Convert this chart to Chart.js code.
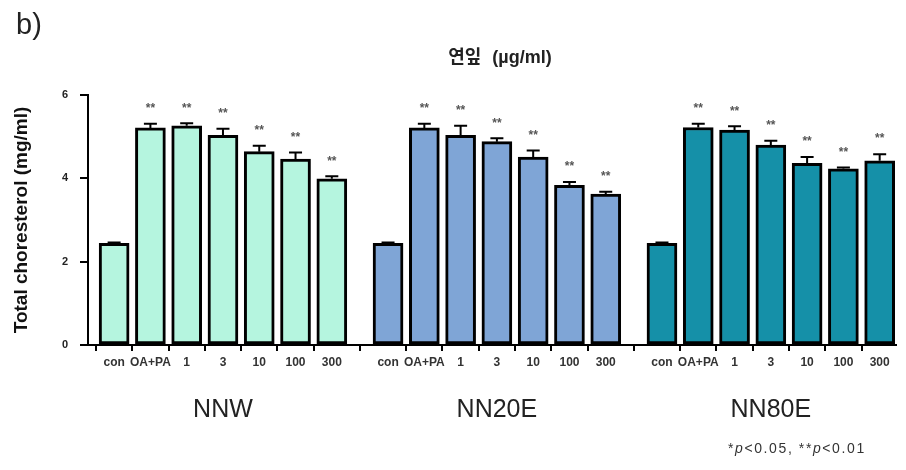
<!DOCTYPE html>
<html>
<head>
<meta charset="utf-8">
<script src="https://cdn.jsdelivr.net/npm/chart.js@4/dist/chart.umd.min.js"></script>
<style>
  html, body { margin: 0; padding: 0; background: #fff; }
  #wrap { position: relative; width: 906px; height: 470px; font-family: Arial, "Liberation Sans", "Noto Sans CJK KR", sans-serif; }
  #chart { position: absolute; left: 0; top: 0; }
  .panel { position: absolute; left: 16px; top: 10px; font-size: 29px; line-height: 29px; color: #222; }
  .title { position: absolute; left: 380px; top: 47px; width: 240px; text-align: center; font-size: 18px; line-height: 20px; font-weight: bold; color: #222; word-spacing: 6px; }
  .note { position: absolute; left: 728px; top: 440px; font-size: 14px; line-height: 16px; color: #333; letter-spacing: 1.6px; }
</style>
</head>
<body>
<div id="wrap">
  <canvas id="chart" width="906" height="470"></canvas>
  <div class="panel">b)</div>
  <div class="title">연잎 (µg/ml)</div>
  <div class="note">*<i>p</i>&lt;0.05, **<i>p</i>&lt;0.01</div>
</div>
<script>
// ── Datos ─────────────────────────────────────────
const GROUPS = ['NNW', 'NN20E', 'NN80E'];
const DOSES  = ['con', 'OA+PA', '1', '3', '10', '100', '300'];
const SIG    = ['', '**', '**', '**', '**', '**', '**'];

const NNW_MEAN   = [2.44, 5.21, 5.26, 5.03, 4.64, 4.46, 3.99];
const NNW_SEM    = [0.02, 0.10, 0.06, 0.16, 0.14, 0.16, 0.06];
const NN20E_MEAN = [2.44, 5.21, 5.03, 4.88, 4.51, 3.83, 3.62];
const NN20E_SEM  = [0.02, 0.10, 0.23, 0.08, 0.16, 0.08, 0.06];
const NN80E_MEAN = [2.44, 5.22, 5.16, 4.80, 4.36, 4.23, 4.42];
const NN80E_SEM  = [0.02, 0.09, 0.09, 0.10, 0.15, 0.03, 0.16];

const Y_TICKS = [0, 2, 4, 6];

// ── Layout ────────────────────────────────────────
const GROUP_STEP = 7.55;   // distancia entre grupos (en slots de barra)
const COLORS = ['#B5F5DF', '#7FA5D6', '#1590A8'];
const MEANS  = [NNW_MEAN, NN20E_MEAN, NN80E_MEAN];
const SEMS   = [NNW_SEM, NN20E_SEM, NN80E_SEM];

const slot = (g, i) => g * GROUP_STEP + i;
const barPositions = GROUPS.flatMap((_, g) => DOSES.map((_, i) => slot(g, i)));
const barLabels    = GROUPS.flatMap(() => DOSES);

// Barras de error (solo hacia arriba), asteriscos y nombres de grupo
const errorBars = {
  id: 'errorBars',
  afterDatasetsDraw(chart) {
    const { ctx, scales: { x, y } } = chart;
    ctx.save();
    chart.data.datasets.forEach((ds, g) => {
      chart.getDatasetMeta(g).data.forEach((bar, i) => {
        const top = y.getPixelForValue(MEANS[g][i] + SEMS[g][i]);
        ctx.strokeStyle = '#000';
        ctx.lineWidth = 2;
        ctx.beginPath();
        ctx.moveTo(bar.x, bar.y);
        ctx.lineTo(bar.x, top);
        ctx.moveTo(bar.x - 6.5, top);
        ctx.lineTo(bar.x + 6.5, top);
        ctx.stroke();
        if (SIG[i]) {
          ctx.fillStyle = '#555';
          ctx.font = 'bold 12px Arial';
          ctx.textAlign = 'center';
          ctx.textBaseline = 'middle';
          ctx.fillText(SIG[i], bar.x, top - 15);
        }
      });
      // nombre del grupo, centrado bajo sus barras
      const mid = x.getPixelForValue(slot(g, (DOSES.length - 1) / 2));
      ctx.fillStyle = '#222';
      ctx.font = '25px Arial';
      ctx.textAlign = 'center';
      ctx.textBaseline = 'alphabetic';
      ctx.fillText(GROUPS[g], mid, 417);
    });
    ctx.restore();
  }
};

new Chart(document.getElementById('chart'), {
  type: 'bar',
  data: {
    datasets: GROUPS.map((name, g) => ({
      label: name,
      data: DOSES.map((_, i) => ({ x: slot(g, i), y: MEANS[g][i] })),
      backgroundColor: COLORS[g],
      borderColor: '#000',
      borderWidth: 3,
      borderSkipped: false,
      barThickness: 30,
      grouped: false
    }))
  },
  options: {
    responsive: false,
    animation: false,
    layout: { padding: { top: 95, right: 10, bottom: 95, left: 0 } },
    plugins: { legend: { display: false }, tooltip: { enabled: false } },
    scales: {
      x: {
        type: 'linear',
        min: -0.72,
        max: 21.55,
        offset: false,
        afterBuildTicks: s => { s.ticks = barPositions.map(v => ({ value: v })); },
        afterFit: s => { s.height = 30; },
        ticks: {
          autoSkip: false, maxRotation: 0, padding: 4,
          color: '#333', font: { family: 'Arial', size: 12, weight: 'bold' },
          callback: (v, i) => barLabels[i]
        },
        grid: { drawOnChartArea: false, color: '#000', lineWidth: 2, tickLength: 6 },
        border: { display: true, color: '#000', width: 2 }
      },
      y: {
        min: 0,
        max: 6,
        afterBuildTicks: s => { s.ticks = Y_TICKS.map(v => ({ value: v })); },
        afterFit: s => { s.width = 88; },
        ticks: { padding: 12, color: '#222', font: { family: 'Arial', size: 11, weight: 'bold' } },
        grid: { drawOnChartArea: false, color: '#000', lineWidth: 2, tickLength: 8 },
        border: { display: true, color: '#000', width: 2 },
        title: {
          display: true,
          text: 'Total choresterol (mg/ml)',
          color: '#111',
          font: { family: 'Arial', size: 19, weight: 'bold' },
          padding: { top: 10, bottom: 0 }
        }
      }
    }
  },
  plugins: [errorBars]
});
</script>
</body>
</html>
